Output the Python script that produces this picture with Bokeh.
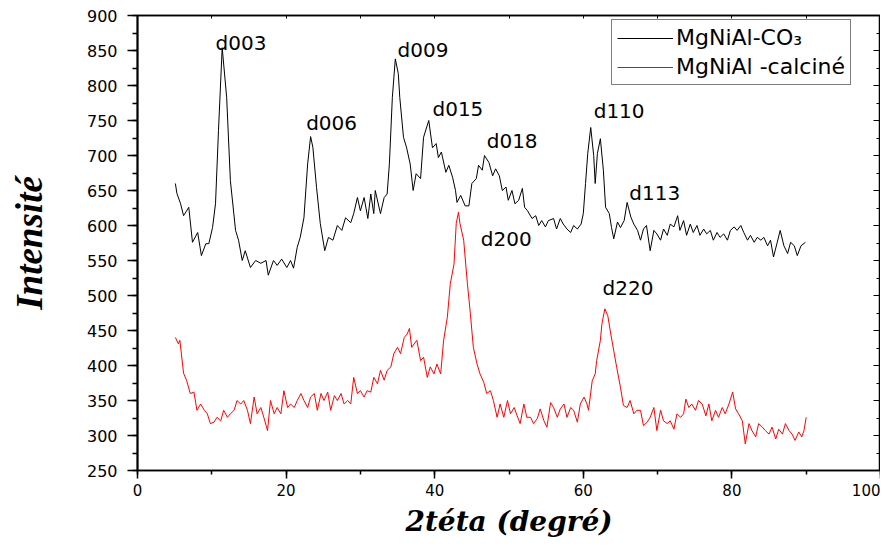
from bokeh.plotting import figure
from bokeh.models import (LinearAxis, Legend, LegendItem, SingleIntervalTicker,
                          Range1d, CustomJSTickFormatter, ColumnDataSource)
from bokeh.core.properties import value
from bokeh.embed import file_html
from bokeh.resources import INLINE

# ---------------- data ----------------
black_x = [5.1, 5.3, 5.8, 6.2, 6.9, 7.4, 8.1, 8.6, 9.2, 9.6,
           10.1, 10.5, 10.9, 11.4, 12.0, 12.5, 13.2, 13.6, 14.1, 14.5,
           15.2, 15.9, 16.6, 17.3, 17.6, 18.3, 18.8, 19.4, 20.1, 20.6,
           21.0, 21.5, 21.9, 22.4, 22.9, 23.3, 23.6, 24.1, 24.6, 25.2,
           25.7, 26.3, 26.9, 27.5, 28.0, 28.7, 29.1, 29.6, 30.0, 30.5,
           31.0, 31.4, 31.8, 32.0, 32.7, 33.2, 33.6, 33.9, 34.3, 34.7,
           35.1, 35.3, 35.8, 36.2, 36.7, 37.1, 37.5,
           38.1, 38.5, 39.2, 39.7, 40.2, 40.5, 40.9, 41.5, 41.9, 42.4,
           42.8, 43.0, 43.5, 44.1, 44.6, 45.0, 45.6, 45.9, 46.4, 46.7,
           47.3, 47.8, 48.2, 48.7, 49.1, 49.6, 49.9, 50.4, 50.8, 51.3,
           51.8, 52.1, 52.5, 53.1, 53.6, 54.0, 54.4, 54.9, 55.3, 56.0,
           56.4, 56.9, 57.3, 57.8, 58.3, 58.7, 59.2, 59.7, 60.0, 60.3,
           60.6, 61.0, 61.4, 61.6, 61.9, 62.3, 62.7, 63.0, 63.5, 63.8,
           64.1, 64.6, 65.0, 65.5, 65.9, 66.4, 66.8, 67.3, 67.7, 68.1,
           68.5, 69.0, 69.5, 69.9, 70.4, 70.8, 71.3, 71.7, 72.2, 72.7,
           73.0, 73.5, 73.9, 74.4, 74.8, 75.3, 75.7, 76.2, 76.6, 77.1,
           77.5, 78.0, 78.4, 78.9, 79.4, 79.8, 80.3, 80.7, 81.2, 81.6,
           82.1, 82.5, 83.0, 83.4, 83.9, 84.3, 84.8, 85.2, 85.6, 86.1,
           86.5, 87.0, 87.5, 87.9, 88.4, 88.8, 89.3, 89.9]
black_y = [660, 646, 631, 614, 626, 576, 590, 557, 574, 574,
           597, 631, 736, 854, 783, 664, 593, 579, 550, 564,
           540, 550, 546, 550, 529, 550, 543, 552, 540, 550,
           539, 569, 583, 611, 688, 727, 712, 654, 603, 564,
           583, 579, 600, 593, 611, 604, 617, 640, 621, 640,
           610, 645, 617, 650, 617, 640, 645, 688, 783, 838,
           817, 783, 726, 712, 688, 650, 674,
           667, 726, 750, 711, 717, 697, 705, 676, 686, 669,
           650, 633, 643, 628, 628, 660, 667, 686, 679, 700,
           690, 671, 681, 671, 650, 655, 636, 650, 631, 636,
           653, 626, 621, 610, 614, 600, 607, 598, 607, 610,
           595, 610, 602, 595, 590, 600, 595, 602, 617, 660,
           703, 740, 700, 660, 703, 724, 679, 626, 617, 597,
           581, 605, 597, 607, 633, 612, 602, 593, 579, 595,
           600, 564, 593, 588, 579, 595, 586, 602, 598, 614,
           593, 607, 586, 602, 590, 600, 586, 595, 588, 593,
           579, 590, 583, 588, 579, 593, 598, 593, 600, 590,
           579, 586, 576, 583, 579, 583, 571, 579, 555, 576,
           593, 571, 560, 576, 571, 557, 571, 576]

red_x = [5.1, 5.5, 5.7, 6.2, 6.6, 7.1, 7.6, 8.0, 8.5, 9.0,
         9.4, 9.8, 10.3, 10.7, 11.2, 11.6, 12.1, 12.5, 13.0, 13.4,
         13.9, 14.3, 14.8, 15.2, 15.7, 16.1, 16.6, 17.0, 17.5, 17.9,
         18.4, 18.8, 19.3, 19.7, 20.2, 20.6, 21.1, 21.5, 22.0, 22.4,
         22.9, 23.3, 23.8, 24.2, 24.7, 25.1, 25.6, 26.0, 26.5, 26.9,
         27.4, 27.8, 28.3, 28.7, 29.1, 29.6, 30.0, 30.5, 30.9, 31.4,
         31.8, 32.3, 32.7, 33.2, 33.6, 34.1, 34.5, 35.0, 35.4, 35.9,
         36.3, 36.6, 36.9, 37.6, 38.1, 38.5, 39.0, 39.4, 39.9, 40.3,
         40.8, 41.2, 41.7, 42.1, 42.6, 42.9, 43.2, 43.4, 43.9, 44.4,
         44.8, 45.2, 45.7, 46.1, 46.6, 47.0, 47.5, 47.9, 48.4, 48.8,
         49.3, 49.8, 50.2, 50.7, 51.1, 51.5, 52.0, 52.4, 52.9, 53.3,
         53.8, 54.2, 54.7, 55.1, 55.6, 56.0, 56.5, 56.9, 57.4, 57.8,
         58.3, 58.7, 59.2, 59.6, 60.1, 60.5, 60.7, 61.2, 61.6, 61.8,
         62.3, 62.5, 62.9, 63.3, 63.7, 64.1, 64.5, 65.0, 65.4, 65.9,
         66.3, 66.8, 67.2, 67.7, 68.1, 68.6, 69.0, 69.5, 69.9, 70.4,
         70.8, 71.3, 71.7, 72.2, 72.6, 73.1, 73.5, 73.8, 74.2, 74.6,
         75.1, 75.5, 76.0, 76.5, 76.9, 77.3, 77.8, 78.2, 78.7, 79.1,
         79.6, 80.1, 80.5, 80.9, 81.4, 81.8, 82.3, 82.7, 83.2, 83.6,
         84.1, 84.5, 85.0, 85.4, 85.9, 86.3, 86.8, 87.2, 87.7, 88.1,
         88.5, 89.0, 89.4, 89.7, 90.0]
red_y = [440, 431, 436, 389, 379, 360, 362, 336, 345, 336,
         331, 317, 319, 326, 321, 336, 326, 331, 336, 350,
         345, 350, 336, 317, 355, 331, 340, 326, 307, 350,
         331, 340, 331, 364, 340, 345, 340, 350, 360, 350,
         340, 355, 360, 336, 360, 350, 362, 336, 357, 350,
         360, 345, 350, 345, 383, 360, 364, 355, 364, 362,
         383, 374, 393, 379, 393, 398, 417, 426, 417, 440,
         445, 453, 426, 436, 407, 412, 383, 398, 388, 402,
         388, 436, 469, 517, 545, 603, 619, 603, 579, 517,
         474, 426, 402, 388, 376, 360, 364, 350, 326, 345,
         326, 350, 331, 340, 328, 317, 345, 326, 326, 317,
         324, 338, 321, 312, 347, 340, 326, 338, 345, 326,
         340, 336, 319, 345, 355, 345, 336, 378, 388, 407,
         436, 459, 481, 471, 445, 421, 397, 369, 343, 340,
         350, 331, 336, 336, 314, 319, 326, 340, 307, 336,
         321, 317, 321, 309, 331, 326, 331, 352, 340, 345,
         336, 350, 345, 328, 345, 321, 336, 326, 340, 331,
         345, 362, 338, 331, 321, 288, 317, 307, 298, 317,
         312, 307, 302, 312, 295, 309, 302, 317, 307, 302,
         293, 305, 298, 307, 326]

series_names = ["MgNiAl-CO\u2083", "MgNiAl -calcin\u00e9"]

peak_labels = ["d003", "d006", "d009", "d015", "d018", "d200", "d110", "d113", "d220"]
peak_x = [10.5, 22.7, 35.0, 39.7, 47.0, 46.2, 61.4, 66.2, 62.6]
peak_y = [861, 747, 851, 767, 721, 581, 764, 646, 511]

x_title = "2t\u00e9ta (degr\u00e9)"
y_title = "Intensit\u00e9"

# ---------------- figure ----------------
p = figure(width=880, height=540, output_backend="svg", toolbar_location=None,
           x_range=Range1d(0, 100), y_range=Range1d(250, 900),
           min_border_left=137, min_border_right=0, min_border_top=15,
           min_border_bottom=70)
p.xgrid.visible = False
p.ygrid.visible = False
p.outline_line_color = "black"
p.outline_line_width = 1.5
p.background_fill_color = "white"
p.border_fill_color = "white"

sans = "DejaVu Sans"
serif = "Liberation Serif"

# bottom axis
xa = p.xaxis[0]
xa.ticker = SingleIntervalTicker(interval=20, num_minor_ticks=2)
xa.major_tick_out = 8
xa.major_tick_in = 0
xa.minor_tick_out = 4
xa.minor_tick_in = 0
xa.axis_line_width = 1.5
xa.major_tick_line_width = 1.5
xa.minor_tick_line_width = 1.5
xa.major_label_text_font = sans
xa.major_label_text_font_size = "15px"
xa.major_label_text_color = "black"
xa.major_label_standoff = 5
xa.axis_label = x_title
xa.axis_label_text_font = "DejaVu Serif"
xa.axis_label_text_font_size = "28px"
xa.axis_label_text_font_style = "bold italic"
xa.axis_label_text_color = "black"
xa.axis_label_standoff = 6

# left axis
ya = p.yaxis[0]
ya.ticker = SingleIntervalTicker(interval=50, num_minor_ticks=2)
ya.major_tick_out = 10
ya.major_tick_in = 0
ya.minor_tick_out = 5
ya.minor_tick_in = 0
ya.axis_line_width = 2
ya.major_tick_line_width = 1.5
ya.minor_tick_line_width = 1.5
ya.major_label_text_font = sans
ya.major_label_text_font_size = "16px"
ya.major_label_text_color = "black"
ya.major_label_standoff = 10
ya.axis_label = y_title
ya.axis_label_text_font = serif
ya.axis_label_text_font_size = "37px"
ya.axis_label_text_font_style = "bold italic"
ya.axis_label_text_color = "black"
ya.axis_label_standoff = 34

blank = CustomJSTickFormatter(code="return ''")

ra = LinearAxis(ticker=SingleIntervalTicker(interval=50, num_minor_ticks=2),
                formatter=blank, major_tick_in=7, major_tick_out=0,
                minor_tick_in=4, minor_tick_out=0, major_label_standoff=0,
                major_label_text_font_size="0px", axis_line_width=1.5)
p.add_layout(ra, "right")

ta = LinearAxis(ticker=SingleIntervalTicker(interval=10, num_minor_ticks=0),
                formatter=blank, major_tick_in=3, major_tick_out=0,
                minor_tick_in=0, minor_tick_out=0, major_label_standoff=0,
                major_label_text_font_size="1px", axis_line_width=1.5)
p.add_layout(ta, "above")

# series
r1 = p.line(black_x, black_y, line_color="black", line_width=1)
r2 = p.line(red_x, red_y, line_color="#ff0000", line_width=1)

# peak labels
src = ColumnDataSource(dict(x=peak_x, y=peak_y, t=peak_labels))
p.text(x="x", y="y", text="t", source=src, text_font=value(sans),
       text_font_size="20px", text_baseline="middle", text_align="left",
       text_color="black")

# legend
legend = Legend(items=[LegendItem(label=series_names[0], renderers=[r1]),
                       LegendItem(label=series_names[1], renderers=[r2])],
                location=(474, 385), orientation="vertical",
                border_line_color="black", border_line_width=1,
                background_fill_color="white", background_fill_alpha=1,
                padding=5, spacing=4, margin=0,
                glyph_width=56, glyph_height=22, label_height=22,
                label_standoff=3, label_text_font=sans,
                label_text_font_size="22px", label_text_color="black")
p.add_layout(legend)

open("out.html", "w").write(file_html(p, INLINE))
